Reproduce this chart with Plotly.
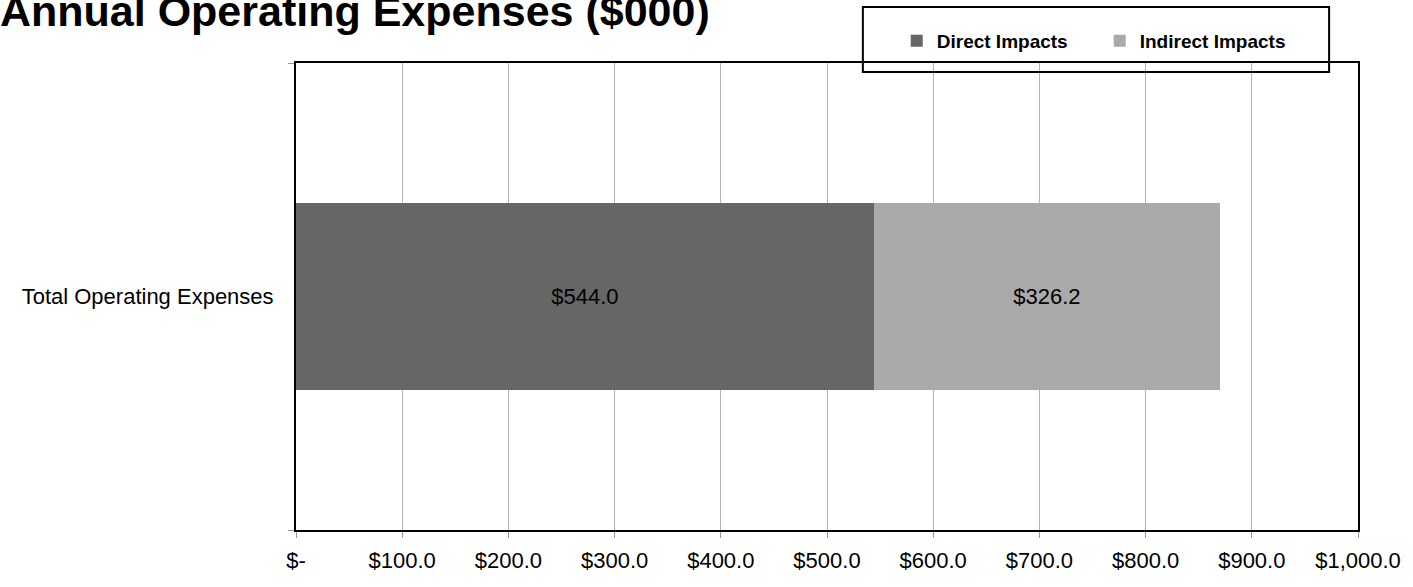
import plotly.graph_objects as go

categories = ["Total Operating Expenses"]
direct_values = [544.0]
indirect_values = [326.2]
series_names = ["Direct Impacts", "Indirect Impacts"]
tick_values = [0, 100, 200, 300, 400, 500, 600, 700, 800, 900, 1000]
tick_labels = ["$-", "$100.0", "$200.0", "$300.0", "$400.0", "$500.0",
               "$600.0", "$700.0", "$800.0", "$900.0", "$1,000.0"]
title_text = "Annual Operating Expenses ($000)"

W, H = 1413, 587
L, R, T, B = 296, 51, 63, 57
PW, PH = W - L - R, H - T - B
FONT = "Liberation Sans, Arial, sans-serif"

fig = go.Figure()
fig.add_trace(go.Bar(
    y=categories, x=direct_values, name=series_names[0], orientation="h",
    marker=dict(color="#666666", line=dict(width=0)),
    texttemplate="$%{x:.1f}", textposition="inside", insidetextanchor="middle",
    textfont=dict(size=22, color="black", family=FONT),
))
fig.add_trace(go.Bar(
    y=categories, x=indirect_values, name=series_names[1], orientation="h",
    marker=dict(color="#AAAAAA", line=dict(width=0)),
    texttemplate="$%{x:.1f}", textposition="inside", insidetextanchor="middle",
    textfont=dict(size=22, color="black", family=FONT),
))

def px_x(p):
    return (p - L) / PW

def px_y(p):
    return 1 - (p - T) / PH

fig.update_layout(
    width=W, height=H,
    margin=dict(l=L, r=R, t=T, b=B, pad=0),
    barmode="stack", bargap=0.6,
    plot_bgcolor="white", paper_bgcolor="white",
    font=dict(family=FONT, size=22, color="black"),
    title=dict(text=title_text, x=0, xref="container", xanchor="left",
               y=1 - 11 / H, yref="container", yanchor="middle",
               pad=dict(l=0, r=0, t=0, b=0),
               font=dict(family=FONT, size=43, color="black", weight="bold")),
    xaxis=dict(range=[0, 1000], tickvals=tick_values, ticktext=tick_labels,
               showgrid=True, gridcolor="#B3B3B3", gridwidth=1,
               ticks="outside", ticklen=6, tickcolor="#999999", tickwidth=1,
               showline=True, linecolor="black", linewidth=2, mirror=True,
               zeroline=False, ticklabelstandoff=4,
               tickfont=dict(size=22, family=FONT)),
    yaxis=dict(range=[-0.5, 0.5], type="category", tickson="boundaries",
               ticks="outside", ticklen=6, tickcolor="#999999", tickwidth=1,
               showgrid=False, showline=True, linecolor="black", linewidth=2,
               mirror=True, ticklabelstandoff=16,
               tickfont=dict(size=22, family=FONT)),
    legend=dict(orientation="h", x=px_x(899), xanchor="left",
                y=px_y(22), yanchor="top", bgcolor="rgba(0,0,0,0)",
                borderwidth=0, traceorder="normal",
                font=dict(size=19, family=FONT, color="black", weight="bold"),
                entrywidth=158, entrywidthmode="pixels"),
    showlegend=True,
)

fig.add_shape(type="rect", xref="paper", yref="paper",
              x0=px_x(865), x1=px_x(1333), y0=px_y(72), y1=px_y(7),
              line=dict(color="black", width=2), fillcolor="rgba(0,0,0,0)",
              layer="above")

fig.write_html("out.html", config={"displayModeBar": False},
               post_script="document.body.style.margin='0';")
